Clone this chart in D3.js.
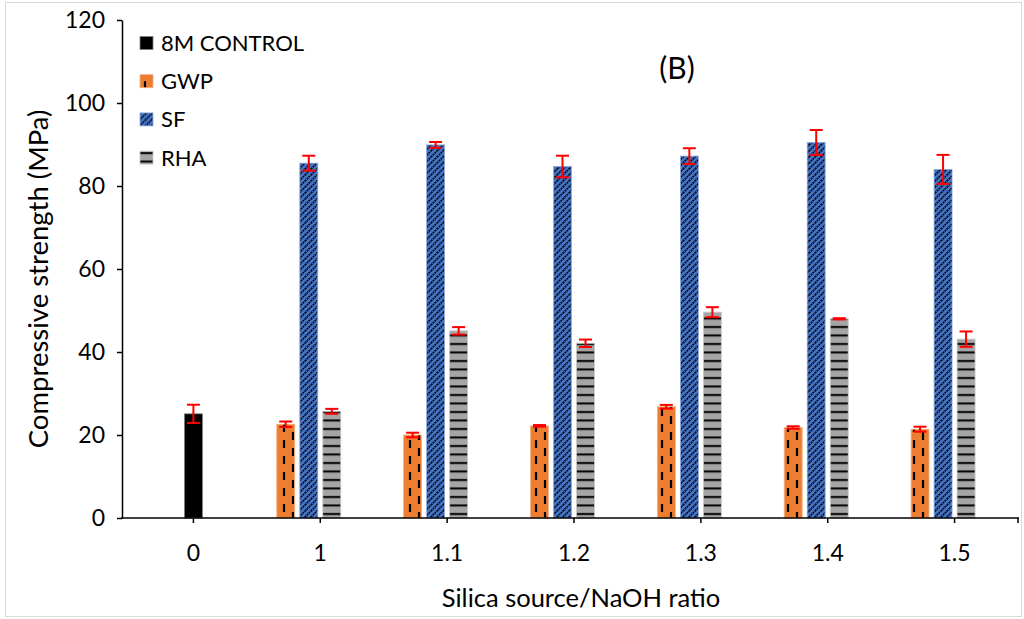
<!DOCTYPE html>
<html>
<head>
<meta charset="utf-8">
<script src="https://cdn.jsdelivr.net/npm/d3@7"></script>
<style>
	body { margin: 0; background: #fff; }
	text { font-family: Lato, "Noto Sans", sans-serif; fill: #000; }
</style>
</head>
<body>
<div id="svg-div"></div>
<script>
// data
var categories = ["0", "1", "1.1", "1.2", "1.3", "1.4", "1.5"];
var seriesNames = ["8M CONTROL", "GWP", "SF", "RHA"];
var controlValues = [25.1, null, null, null, null, null, null];
var controlErr = [2.2, null, null, null, null, null, null];
var gwpValues = [null, 22.6, 20.0, 22.2, 26.8, 21.8, 21.4];
var gwpErr = [null, 0.65, 0.55, 0.2, 0.45, 0.3, 0.6];
var sfValues = [null, 85.5, 89.9, 84.7, 87.2, 90.5, 84.0];
var sfErr = [null, 1.8, 0.7, 2.6, 1.9, 3.0, 3.5];
var rhaValues = [null, 25.7, 45.1, 42.1, 49.6, 48.0, 43.1];
var rhaErr = [null, 0.6, 0.9, 0.9, 1.2, 0.15, 1.85];
var yTicks = [0, 20, 40, 60, 80, 100, 120];

var chartProperties = {
	outerWidth: 1024,
	outerHeight: 619,
	left: 122,
	right: 1018,
	top: 20,
	bottom: 518
};

var svg = d3.select("#svg-div")
	.append("svg")
	.attr("width", chartProperties.outerWidth)
	.attr("height", chartProperties.outerHeight);

// chart area border
svg.append("rect")
	.attr("x", 5.5)
	.attr("y", 2.5)
	.attr("width", 1016)
	.attr("height", 614)
	.attr("fill", "none")
	.attr("stroke", "#d9d9d9");

// Patterns
var defs = svg.append("defs");

var pGwp = defs.append("pattern")
	.attr("id", "pat-gwp")
	.attr("patternUnits", "userSpaceOnUse")
	.attr("width", 18)
	.attr("height", 16);
pGwp.append("rect").attr("width", 18).attr("height", 16).attr("fill", "#ed7d31");
pGwp.append("line").attr("x1", 5).attr("x2", 5).attr("y1", 0).attr("y2", 8)
	.attr("stroke", "#000").attr("stroke-width", 2.2);
pGwp.append("line").attr("x1", 14).attr("x2", 14).attr("y1", 8).attr("y2", 16)
	.attr("stroke", "#000").attr("stroke-width", 2.2);

var pSf = defs.append("pattern")
	.attr("id", "pat-sf")
	.attr("patternUnits", "userSpaceOnUse")
	.attr("width", 6)
	.attr("height", 6);
pSf.append("rect").attr("width", 6).attr("height", 6).attr("fill", "#4472c4");
pSf.append("path").attr("d", "M-1,7 L7,-1 M-4,4 L4,-4 M2,10 L10,2")
	.attr("stroke", "#050505").attr("stroke-width", 1.6).attr("stroke-dasharray", "1.8 0.8");

var pRha = defs.append("pattern")
	.attr("id", "pat-rha")
	.attr("patternUnits", "userSpaceOnUse")
	.attr("width", 8)
	.attr("height", 8.5);
pRha.append("rect").attr("width", 8).attr("height", 8.5).attr("fill", "#a5a5a5");
pRha.append("rect").attr("y", 3).attr("width", 8).attr("height", 2).attr("fill", "#000");

var fills = {
	"8M CONTROL": "#000",
	"GWP": "url(#pat-gwp)",
	"SF": "url(#pat-sf)",
	"RHA": "url(#pat-rha)"
};
var strokes = {
	"8M CONTROL": "#7f7f7f",
	"GWP": "#f4b183",
	"SF": "#8faadc",
	"RHA": "#c9c9c9"
};

// Scales
var xScale = d3.scaleBand()
	.domain(categories)
	.range([130, chartProperties.right]);

var subScale = d3.scaleBand()
	.domain(["GWP", "SF", "RHA", "gap"])
	.range([-43.5, 43.5])
	.paddingInner(0.22);

var yScale = d3.scaleLinear()
	.domain([0, 120])
	.range([chartProperties.bottom, chartProperties.top]);

// build rows from the arrays
var bars = [];
categories.forEach(function(c, i) {
	if (controlValues[i] != null) bars.push({cat: c, series: "8M CONTROL", value: controlValues[i], err: controlErr[i]});
	if (gwpValues[i] != null) bars.push({cat: c, series: "GWP", value: gwpValues[i], err: gwpErr[i]});
	if (sfValues[i] != null) bars.push({cat: c, series: "SF", value: sfValues[i], err: sfErr[i]});
	if (rhaValues[i] != null) bars.push({cat: c, series: "RHA", value: rhaValues[i], err: rhaErr[i]});
});

function barX(d) {
	var center = xScale(d.cat) + xScale.bandwidth() / 2;
	if (d.series == "8M CONTROL") return center - subScale.bandwidth() / 2;
	return center + subScale(d.series);
}

svg.selectAll("rect.bar")
	.data(bars)
	.enter()
	.append("rect")
	.attr("class", "bar")
	.attr("x", barX)
	.attr("width", subScale.bandwidth())
	.attr("y", function(d) { return yScale(d.value); })
	.attr("height", function(d) { return yScale(0) - yScale(d.value); })
	.attr("fill", function(d) { return fills[d.series]; })
	.attr("stroke", function(d) { return strokes[d.series]; })
	.attr("stroke-width", 0.8);

// Error bars
var errG = svg.selectAll("g.err")
	.data(bars)
	.enter()
	.append("g")
	.attr("class", "err")
	.attr("stroke", "#ff0000")
	.attr("stroke-width", 2);

errG.append("line")
	.attr("x1", function(d) { return barX(d) + subScale.bandwidth() / 2; })
	.attr("x2", function(d) { return barX(d) + subScale.bandwidth() / 2; })
	.attr("y1", function(d) { return yScale(d.value + d.err); })
	.attr("y2", function(d) { return yScale(d.value - d.err); });

errG.selectAll("line.cap")
	.data(function(d) { return [d.value + d.err, d.value - d.err].map(function(v) { return {d: d, v: v}; }); })
	.enter()
	.append("line")
	.attr("class", "cap")
	.attr("x1", function(e) { return barX(e.d) + subScale.bandwidth() / 2 - 6.5; })
	.attr("x2", function(e) { return barX(e.d) + subScale.bandwidth() / 2 + 6.5; })
	.attr("y1", function(e) { return yScale(e.v); })
	.attr("y2", function(e) { return yScale(e.v); });

// Axis
var xAxis = d3.axisBottom(xScale)
	.tickSize(5)
	.tickSizeOuter(0)
	.tickPadding(22);

var gx = svg.append("g")
	.attr("transform", "translate(0," + chartProperties.bottom + ")")
	.call(xAxis);
gx.select(".domain").remove();
gx.selectAll("text").style("font-size", "23px").style("font-family", "Lato, sans-serif");
gx.selectAll("line").attr("stroke", "#000").attr("stroke-width", 1.5);
gx.append("line")
	.attr("x1", chartProperties.left - 1)
	.attr("x2", chartProperties.right + 1)
	.attr("stroke", "#000")
	.attr("stroke-width", 1.5);
gx.append("line")
	.attr("x1", chartProperties.right)
	.attr("x2", chartProperties.right)
	.attr("y2", 5)
	.attr("stroke", "#000")
	.attr("stroke-width", 1.5);

var yAxis = d3.axisLeft(yScale)
	.tickValues(yTicks)
	.tickSize(5)
	.tickSizeOuter(0)
	.tickPadding(12);

var gy = svg.append("g")
	.attr("transform", "translate(" + chartProperties.left + ",0)")
	.call(yAxis);
gy.select(".domain").attr("stroke", "#000").attr("stroke-width", 1.5);
gy.selectAll("line").attr("stroke", "#000").attr("stroke-width", 1.5);
gy.selectAll("text").style("font-size", "23px").style("font-family", "Lato, sans-serif");

// Axis titles
svg.append("text")
	.attr("x", 581)
	.attr("y", 607)
	.attr("text-anchor", "middle")
	.style("font-size", "25.5px")
	.text("Silica source/NaOH ratio");

svg.append("text")
	.attr("transform", "translate(48,279) rotate(-90)")
	.attr("text-anchor", "middle")
	.style("font-size", "27.5px")
	.text("Compressive strength (MPa)");

svg.append("text")
	.attr("x", 677)
	.attr("y", 79)
	.attr("text-anchor", "middle")
	.style("font-size", "30px")
	.text("(B)");

// Legend
var legend = svg.selectAll("g.legend")
	.data(seriesNames)
	.enter()
	.append("g")
	.attr("class", "legend")
	.attr("transform", function(d, i) { return "translate(140," + (43 + i * 38.2) + ")"; });

legend.append("rect")
	.attr("y", -6.5)
	.attr("width", 13)
	.attr("height", 13)
	.attr("fill", function(d) { return fills[d]; })
	.attr("stroke", function(d) { return strokes[d]; })
	.attr("stroke-width", 0.8);

legend.append("text")
	.attr("x", 21)
	.attr("y", 8)
	.style("font-size", "22px")
	.text(function(d) { return d; });
</script>
</body>
</html>
